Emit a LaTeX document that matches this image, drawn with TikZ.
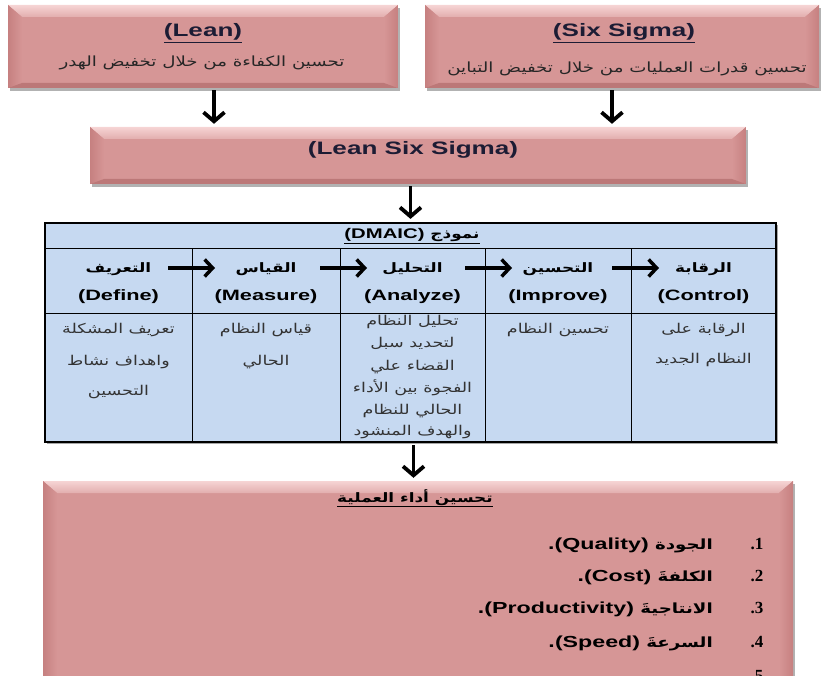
\documentclass[tikz,border=0pt]{standalone}
\usepackage{fontspec}
\usetikzlibrary{arrows.meta,shadows}
\TeXXeTstate=1
\newfontfamily\ar[Script=Arabic,FakeStretch=1.3]{DejaVu Sans}
\newfontfamily\lat[FakeStretch=1.45]{Liberation Sans}
\newfontfamily\numf{Liberation Serif}
\definecolor{face}{RGB}{214,150,150}
\definecolor{bevtopA}{RGB}{246,212,212}
\definecolor{bevtopB}{RGB}{226,174,174}
\definecolor{bevside}{RGB}{198,128,128}
\definecolor{bevbot}{RGB}{188,120,120}
\definecolor{tblue}{RGB}{198,217,241}
\definecolor{navy}{RGB}{28,28,52}
\tikzset{
  bevelbox/.style={fill=face, draw=none, inner sep=0pt,
    drop shadow={shadow xshift=2pt,shadow yshift=-3pt,fill=black,opacity=0.3},
    path picture={
      \coordinate (pnw) at (path picture bounding box.north west);
      \coordinate (pne) at (path picture bounding box.north east);
      \coordinate (psw) at (path picture bounding box.south west);
      \coordinate (pse) at (path picture bounding box.south east);
      \shade[top color=bevtopA,bottom color=bevtopB] (pnw) -- (pne) -- ([xshift=-14pt,yshift=-12pt]pne) -- ([xshift=14pt,yshift=-12pt]pnw) -- cycle;
      \shade[left color=bevside,right color=face] (pnw) -- ([xshift=14pt,yshift=-12pt]pnw) -- ([xshift=14pt,yshift=5pt]psw) -- (psw) -- cycle;
      \shade[left color=face,right color=bevside] (pne) -- (pse) -- ([xshift=-14pt,yshift=5pt]pse) -- ([xshift=-14pt,yshift=-12pt]pne) -- cycle;
      \fill[bevbot] (psw) -- ([xshift=14pt,yshift=5pt]psw) -- ([xshift=-14pt,yshift=5pt]pse) -- (pse) -- cycle;
    }},
  ttl/.style={font=\lat\bfseries\fontsize{18}{20}\selectfont, text=navy, inner sep=0pt, anchor=base},
  subar/.style={font=\ar\fontsize{14}{16}\selectfont, text=black!85, inner sep=0pt, anchor=base},
  hdar/.style={font=\ar\bfseries\fontsize{13}{15}\selectfont, inner sep=0pt, anchor=base},
  hden/.style={font=\lat\bfseries\fontsize{15}{17}\selectfont, inner sep=0pt, anchor=base},
  cellar/.style={font=\ar\fontsize{13.5}{15}\selectfont, text=black!80, inner sep=0pt, anchor=base},
  itemst/.style={font=\ar\bfseries\fontsize{14}{16}\selectfont, inner sep=0pt, anchor=base east},
  numst/.style={font=\numf\bfseries\fontsize{17}{19}\selectfont, inner sep=0pt, anchor=base},
  flow/.style={line width=3.5pt, -{Straight Barb[length=8pt,width=17pt]}, black},
  vflow/.style={line width=3.8pt, -{Straight Barb[length=9pt,width=21pt]}, black, shorten <=2pt, shorten >=3pt},
  rule/.style={line width=0.9pt, black},
}
\begin{document}
\begin{tikzpicture}[x=1pt,y=-1pt]
\useasboundingbox (0,0) rectangle (821,676);
\clip (0,0) rectangle (821,676);

% top boxes
\node[bevelbox, minimum width=390pt, minimum height=83pt] (lean) at (203,46.5) {};
\node[ttl] (leanT) at (203,37) {\underline{(Lean)}};
\node[subar] (leanA) at (202,67) {\beginR تحسين الكفاءة من خلال تخفيض الهدر\endR};

\node[bevelbox, minimum width=394pt, minimum height=83pt] (six) at (622,46.5) {};
\node[ttl] (sixT) at (624,37) {\underline{(Six Sigma)}};
\node[subar] (sixA) at (627,73) {\beginR تحسين قدرات العمليات من خلال تخفيض التباين\endR};

\node[bevelbox, minimum width=656pt, minimum height=57pt] (lss) at (418,155.5) {};
\node[ttl] (lssT) at (413,155) {(Lean Six Sigma)};

\draw[vflow] ([xshift=11pt]lean.south) -- ([xshift=11pt]lean.south |- lss.north);
\draw[vflow] ([xshift=-10pt]six.south) -- ([xshift=-10pt]six.south |- lss.north);

% table
\node[draw, line width=2.2pt, fill=tblue, minimum width=731pt, minimum height=219pt, inner sep=0pt,
  drop shadow={shadow xshift=2pt,shadow yshift=-2pt,fill=black,opacity=0.35}] (tbl) at (410.5,332.5) {};
\draw[vflow] (tbl.north |- lss.south) -- (tbl.north);

\draw[rule] (45,248) -- (776,248);
\draw[rule] (45,313) -- (776,313);
\foreach \cx in {192,340,485,631} \draw[rule] (\cx,248) -- (\cx,442);

\node[inner sep=0pt, anchor=base] (dmaic) at (412,239)
  {\underline{\hbox{\ar\bfseries\fontsize{13}{15}\selectfont\beginR نموذج \beginL{\lat\bfseries\fontsize{14}{16}\selectfont(DMAIC)}\endL\endR}}};

\node[hdar] (h1a) at (118.5,272) {\beginR التعريف\endR};
\node[hdar] (h2a) at (266,272) {\beginR القياس\endR};
\node[hdar] (h3a) at (412.5,272) {\beginR التحليل\endR};
\node[hdar] (h4a) at (558,272) {\beginR التحسين\endR};
\node[hdar] (h5a) at (703.5,272) {\beginR الرقابة\endR};

\node[hden] (h1e) at (118.5,300) {(Define)};
\node[hden] (h2e) at (266,300) {(Measure)};
\node[hden] (h3e) at (412.5,300) {(Analyze)};
\node[hden] (h4e) at (558,300) {(Improve)};
\node[hden] (h5e) at (703.5,300) {(Control)};

\coordinate (k1s) at (168,268); \coordinate (k1e) at (215,268);
\coordinate (k2s) at (320,268); \coordinate (k2e) at (367,268);
\coordinate (k3s) at (465,268); \coordinate (k3e) at (512,268);
\coordinate (k4s) at (612,268); \coordinate (k4e) at (659,268);
\draw[flow] (k1s) -- (k1e);
\draw[flow] (k2s) -- (k2e);
\draw[flow] (k3s) -- (k3e);
\draw[flow] (k4s) -- (k4e);

% cell bodies
\node[cellar] (d1) at (118.5,333) {\beginR تعريف المشكلة\endR};
\node[cellar] (d2) at (118.5,365) {\beginR واهداف نشاط\endR};
\node[cellar] (d3) at (118.5,395) {\beginR التحسين\endR};

\node[cellar] (m1) at (266,333) {\beginR قياس النظام\endR};
\node[cellar] (m2) at (266,365) {\beginR الحالي\endR};

\node[cellar] (a1) at (412.5,325) {\beginR تحليل النظام\endR};
\node[cellar] (a2) at (412.5,347.5) {\beginR لتحديد سبل\endR};
\node[cellar] (a3) at (412.5,370) {\beginR القضاء علي\endR};
\node[cellar] (a4) at (412.5,392) {\beginR الفجوة بين الأداء\endR};
\node[cellar] (a5) at (412.5,414.5) {\beginR الحالي للنظام\endR};
\node[cellar] (a6) at (412.5,435) {\beginR والهدف المنشود\endR};

\node[cellar] (p1) at (558,333) {\beginR تحسين النظام\endR};

\node[cellar] (c1) at (703.5,333) {\beginR الرقابة على\endR};
\node[cellar] (c2) at (703.5,363) {\beginR النظام الجديد\endR};

% bottom box
\node[bevelbox, minimum width=750pt, minimum height=240pt] (bot) at (418,601) {};
\draw[vflow] ([xshift=3pt]tbl.south) -- ([xshift=3pt]tbl.south |- bot.north);

\node[inner sep=0pt, anchor=base] (btitle) at (415,502)
  {\underline{\hbox{\ar\bfseries\fontsize{13}{15}\selectfont\beginR تحسين أداء العملية\endR}}};

\node[itemst] (i1) at (713,549) {\beginR الجودة \beginL{\lat\bfseries\fontsize{16}{18}\selectfont(Quality)}\endL.\endR};
\node[itemst] (i2) at (713,581) {\beginR الكلفةَ \beginL{\lat\bfseries\fontsize{16}{18}\selectfont(Cost)}\endL.\endR};
\node[itemst] (i3) at (713,613) {\beginR الانتاجيةَ \beginL{\lat\bfseries\fontsize{16}{18}\selectfont(Productivity)}\endL.\endR};
\node[itemst] (i4) at (713,647) {\beginR السرعةَ \beginL{\lat\bfseries\fontsize{16}{18}\selectfont(Speed)}\endL.\endR};

\node[numst] (n1) at (757,549) {.1};
\node[numst] (n2) at (757,581) {.2};
\node[numst] (n3) at (757,613) {.3};
\node[numst] (n4) at (757,647) {.4};
\node[numst] (n5) at (757,681) {.5};
\end{tikzpicture}
\end{document}
